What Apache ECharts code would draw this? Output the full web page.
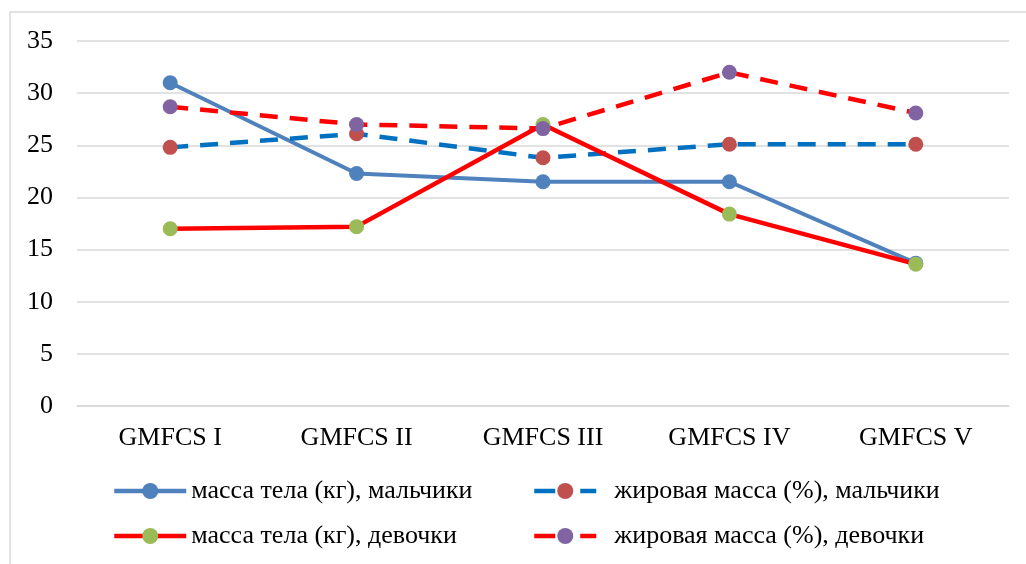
<!DOCTYPE html>
<html>
<head>
<meta charset="utf-8">
<script src="https://cdn.jsdelivr.net/npm/echarts@6/dist/echarts.min.js"></script>
<style>
  html, body { margin: 0; padding: 0; background: #fff; }
  #chart { width: 1026px; height: 564px; }
</style>
</head>
<body>
<div id="chart"></div>
<script>
// data
var categories = ['GMFCS I', 'GMFCS II', 'GMFCS III', 'GMFCS IV', 'GMFCS V'];
var massBoys = [31.0, 22.3, 21.5, 21.5, 13.7];
var fatBoys = [24.8, 26.1, 23.8, 25.1, 25.1];
var massGirls = [17.0, 17.2, 27.0, 18.4, 13.6];
var fatGirls = [28.7, 27.0, 26.6, 32.0, 28.1];
var names = [
    'масса тела (кг), мальчики',
    'жировая масса (%), мальчики',
    'масса тела (кг), девочки',
    'жировая масса (%), девочки'
];

var font = 'Liberation Serif';

function legendAt(name, left, top, w, gap, dash) {
    return {
        data: [name],
        left: left,
        top: top,
        padding: 0,
        itemWidth: w,
        itemHeight: 20,
        lineStyle: { width: 4.5, type: dash || 'solid' },
        textStyle: { fontFamily: font, fontSize: 26, color: '#000', padding: [0, 0, 0, gap] },
        selectedMode: false
    };
}

var chart = echarts.init(document.getElementById('chart'));
var option = {
    animation: false,
    backgroundColor: '#fff',
    graphic: [
        {
            type: 'polyline',
            shape: { points: [[10, 564], [10, 12], [1026, 12]] },
            style: { stroke: '#d9d9d9', lineWidth: 1.5, fill: null }
        }
    ],
    grid: { left: 77, right: 17, top: 41, bottom: 158 },
    legend: [
        legendAt(names[0], 112, 478, 72, 0),
        legendAt(names[1], 532, 478, 62, 13, [21, 25]),
        legendAt(names[2], 112, 523, 72, 0),
        legendAt(names[3], 532, 523, 62, 13, [21, 25])
    ],
    xAxis: {
        type: 'category',
        data: categories,
        axisLine: { show: true, lineStyle: { color: '#d9d9d9', width: 1.5 } },
        axisTick: { show: false },
        axisLabel: { fontFamily: font, fontSize: 26, color: '#000', margin: 19 }
    },
    yAxis: {
        type: 'value',
        min: 0,
        max: 35,
        interval: 5,
        axisLine: { show: false },
        axisTick: { show: false },
        axisLabel: { fontFamily: font, fontSize: 26, color: '#000', margin: 24 },
        splitLine: { lineStyle: { color: '#d9d9d9', width: 1.5 } }
    },
    series: [
        {
            name: names[0],
            type: 'line',
            data: massBoys,
            symbol: 'circle',
            symbolSize: 15,
            itemStyle: { color: '#4f81bd' },
            lineStyle: { color: '#4f81bd', width: 4 }
        },
        {
            name: names[1],
            type: 'line',
            data: fatBoys,
            symbol: 'circle',
            symbolSize: 15,
            itemStyle: { color: '#c0504d' },
            lineStyle: { color: '#0070c0', width: 4.5, type: [18, 12] }
        },
        {
            name: names[2],
            type: 'line',
            data: massGirls,
            symbol: 'circle',
            symbolSize: 15,
            itemStyle: { color: '#9bbb59' },
            lineStyle: { color: '#ff0000', width: 4.5 }
        },
        {
            name: names[3],
            type: 'line',
            data: fatGirls,
            symbol: 'circle',
            symbolSize: 15,
            itemStyle: { color: '#8064a2' },
            lineStyle: { color: '#ff0000', width: 4.5, type: [18, 12] }
        }
    ]
};
chart.setOption(option);
</script>
</body>
</html>
